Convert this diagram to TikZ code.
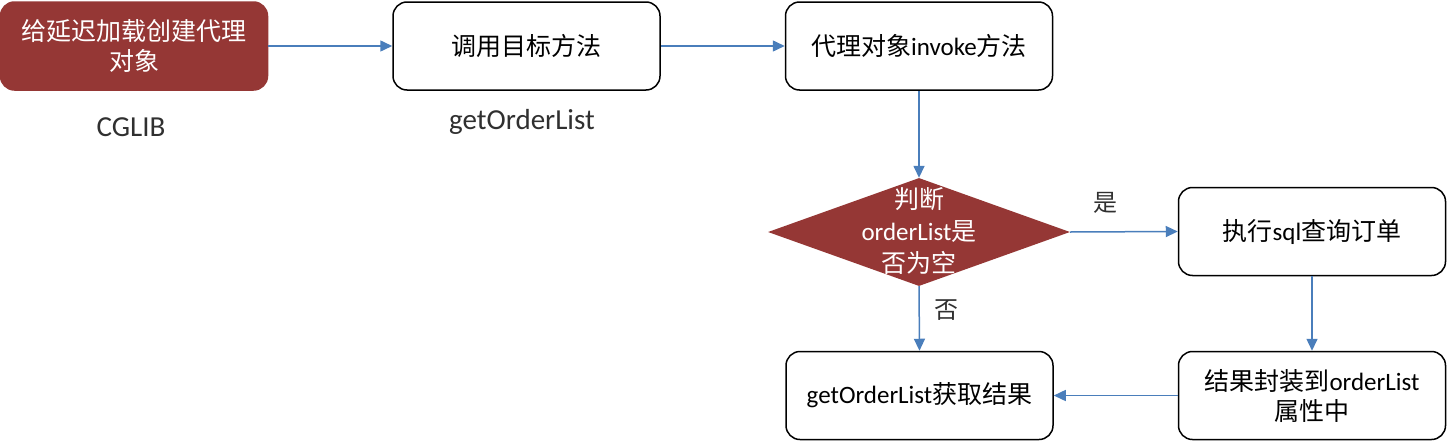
\documentclass[tikz,border=0pt]{standalone}
\usepackage{fontspec}
\setmainfont{Carlito}
\newfontfamily\cjk{Noto Sans CJK SC}
\usetikzlibrary{shapes.geometric,arrows.meta}
\definecolor{boxred}{HTML}{953735}
\definecolor{arrowblue}{HTML}{4A7EBB}
\definecolor{lblgray}{HTML}{303030}
\begin{document}
\begin{tikzpicture}[x=1pt,y=-1pt,
  box/.style={draw=black,line width=1.5pt,rounded corners=14pt,minimum width=267pt,minimum height=88pt,inner sep=0pt,align=center,font=\fontsize{25}{30}\selectfont},
  redbox/.style={box,fill=boxred,draw=boxred,text=white},
  decision/.style={diamond,fill=boxred,draw=none,minimum width=302pt,minimum height=108pt,inner sep=0pt},
  dtextstyle/.style={text=white,align=center,inner sep=0pt,font=\fontsize{25}{32}\selectfont},
  conn/.style={draw=arrowblue,line width=1.5pt,-{Triangle[length=12pt,width=11pt]}},
  lbl/.style={font=\fontsize{29}{34}\selectfont,text=lblgray,inner sep=0pt},
  yn/.style={font=\fontsize{24}{28}\selectfont,text=lblgray,inner sep=0pt}]
\useasboundingbox (0,0) rectangle (1447,442);
\node[redbox] (a) at (134,46) {{\cjk 给延迟加载创建代理}\\{\cjk 对象}};
\node[box] (b) at (526.5,46) {{\cjk 调用目标方法}};
\node[box] (c) at (919,46) {{\cjk 代理对象}invoke{\cjk 方法}};
\node[decision] (d) at (919,232) {};
\node[dtextstyle] (dt) at (919,231) {{\cjk 判断}\\orderList{\cjk 是}\\{\cjk 否为空}};
\node[box] (e) at (1312,231.5) {{\cjk 执行}sql{\cjk 查询订单}};
\node[box] (f) at (1312,395.5) {{\cjk 结果封装到}orderList\\{\cjk 属性中}};
\node[box] (g) at (919.5,395.5) {getOrderList{\cjk 获取结果}};
\node[lbl] (l1) at (131,127) {CGLIB};
\node[lbl] (l2) at (522,122) {getOrderList};
\node[yn] (yes) at (1105,203) {{\cjk 是}};
\node[yn] (no) at (946,310) {{\cjk 否}};
\draw[conn] (a.east) -- (b.west);
\draw[conn] (b.east) -- (c.west);
\draw[conn] (c.south) -- (d.north);
\draw[conn] (d.east) -- (e.west);
\draw[conn] (d.south) -- (g.north);
\draw[conn] (e.south) -- (f.north);
\draw[conn] (f.west) -- (g.east);
\end{tikzpicture}
\end{document}
